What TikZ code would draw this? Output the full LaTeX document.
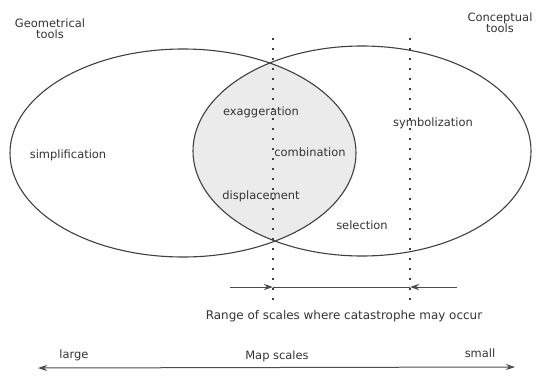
\documentclass[tikz,border=0pt]{standalone}
\usepackage{fontspec}
\setmainfont{DejaVu Sans}
\usetikzlibrary{arrows.meta}
\tikzset{
  lbl/.style={inner sep=0pt, text=black!80, font=\fontsize{11.5}{13}\selectfont},
  toollbl/.style={lbl, align=center, font=\fontsize{11.5}{11.5}\selectfont},
  oval/.style={line width=1.1bp, draw=black!75},
  dotline/.style={line width=1.8bp, draw=black!75, dash pattern=on 1.8bp off 8.2bp},
  scaleline/.style={line width=1bp, draw=black!70}
}

\begin{document}
\begin{tikzpicture}[x=1bp, y=1bp]
		%%%%% START %%%%%
		\useasboundingbox (0, 0) rectangle (536, 376);
		
		% the two tool sets and their overlap
		\begin{scope}
			\clip (183, 223) ellipse [x radius=173, y radius=104];
			\fill[black!8] (362, 225) ellipse [x radius=169, y radius=105];
		\end{scope}
		\draw[oval] (183, 223) ellipse [x radius=173, y radius=104];
		\draw[oval] (362, 225) ellipse [x radius=169, y radius=105];
		
		\node[toollbl] (geom) at (50, 347) {Geometrical\\tools};
		\node[toollbl] (concept) at (500, 353) {Conceptual\\tools};
		
		\node[lbl] (simpl) at (68, 221) {simplification};
		\node[lbl] (exag) at (261, 264) {exaggeration};
		\node[lbl] (comb) at (310, 224) {combination};
		\node[lbl] (displ) at (261, 180) {displacement};
		\node[lbl] (select) at (362, 151) {selection};
		\node[lbl] (symbol) at (433, 253) {symbolization};
		
		% limits of the catastrophe range
		\coordinate (d1top) at (273, 338);
		\coordinate (d1bot) at (273, 73);
		\coordinate (d2top) at (410, 338);
		\coordinate (d2bot) at (410, 73);
		\draw[dotline] (d1top) -- (d1bot);
		\draw[dotline] (d2top) -- (d2bot);
		
		\coordinate (rangeL) at (230, 89);
		\coordinate (rangeA) at (273, 89);
		\coordinate (rangeB) at (410, 89);
		\coordinate (rangeR) at (457, 89);
		\draw[scaleline, -{Stealth[length=9bp, width=6bp]}] (rangeL) -- (rangeA);
		\draw[scaleline] (rangeA) -- (rangeB);
		\draw[scaleline, -{Stealth[length=9bp, width=6bp]}] (rangeR) -- (rangeB);
		\node[lbl, font=\fontsize{12}{13}\selectfont] (range) at (344, 60) {Range of scales where catastrophe may occur};
		
		% map scale axis
		\coordinate (scaleL) at (38, 8);
		\coordinate (scaleR) at (515, 9);
		\draw[scaleline, {Stealth[length=9bp, width=6bp]}-{Stealth[length=9bp, width=6bp]}] (scaleL) -- (scaleR);
		\node[lbl] (large) at (74, 21) {large};
		\node[lbl] (mapsc) at (277, 20) {Map scales};
		\node[lbl] (small) at (480, 23) {small};
		
		%%%%% END %%%%%
	\end{tikzpicture}
\end{document}
